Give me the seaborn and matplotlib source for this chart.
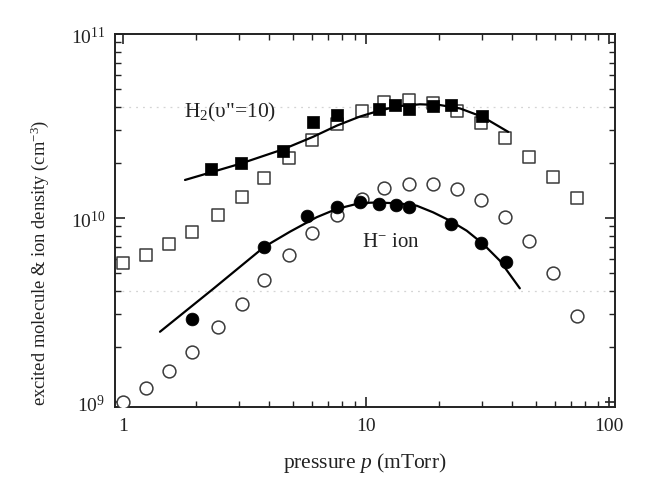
import numpy as np
import pandas as pd
import matplotlib
matplotlib.use("Agg")
import matplotlib.pyplot as plt
import seaborn as sns
from matplotlib.ticker import LogLocator, FixedLocator, FixedFormatter, NullFormatter

# ---------------- data ----------------
pressure = [1.00, 1.24, 1.55, 1.93, 2.45, 3.08, 3.81, 4.82, 6.01, 7.58,
            9.60, 11.9, 15.0, 18.8, 23.6, 29.9, 37.3, 46.9, 58.7, 73.8]
h2_open = [5.67e9, 6.29e9, 7.20e9, 8.36e9, 1.04e10, 1.30e10, 1.64e10, 2.11e10,
           2.66e10, 3.23e10, 3.83e10, 4.25e10, 4.40e10, 4.22e10, 3.80e10,
           3.28e10, 2.71e10, 2.15e10, 1.67e10, 1.28e10]
hminus_open = [1.00e9, 1.19e9, 1.47e9, 1.88e9, 2.55e9, 3.41e9, 4.62e9, 6.29e9,
               8.28e9, 1.04e10, 1.27e10, 1.45e10, 1.54e10, 1.54e10, 1.44e10,
               1.25e10, 1.01e10, 7.47e9, 5.02e9, 2.94e9]

h2_fill_p = [2.30, 3.06, 4.55, 6.05, 7.60, 11.3, 13.2, 15.0, 18.9, 22.4, 30.0]
h2_fill = [1.85e10, 1.99e10, 2.30e10, 3.34e10, 3.63e10, 3.91e10, 4.13e10,
           3.91e10, 4.08e10, 4.13e10, 3.57e10]

hm_fill_p = [1.93, 3.82, 5.73, 7.62, 9.45, 11.3, 13.25, 15.1, 22.5, 29.9, 37.6]
hm_fill = [2.83e9, 6.93e9, 1.02e10, 1.15e10, 1.22e10, 1.19e10, 1.18e10,
           1.15e10, 9.27e9, 7.29e9, 5.79e9]

h2_fit_p = [1.80, 3.03, 4.55, 6.05, 7.60, 9.45, 11.4, 13.8, 16.7, 20.2,
            24.4, 30.3, 38.5]
h2_fit = [1.61e10, 1.97e10, 2.36e10, 2.76e10, 3.18e10, 3.56e10, 3.84e10,
          4.06e10, 4.15e10, 4.11e10, 3.94e10, 3.54e10, 2.94e10]

hm_fit_p = [1.42, 2.35, 3.82, 4.87, 6.27, 7.57, 9.45, 11.1, 13.8, 16.2,
            18.9, 22.2, 26.0, 30.4, 35.6, 43.0]
hm_fit = [2.41e9, 4.12e9, 6.98e9, 8.43e9, 1.01e10, 1.12e10, 1.205e10, 1.215e10,
          1.20e10, 1.166e10, 1.074e10, 9.67e9, 8.53e9, 7.22e9, 5.86e9, 4.15e9]

x_ticks = [1, 10, 100]
x_ticklabels = ["1", "10", "100"]
y_ticks = [1e9, 1e10, 1e11]
y_ticklabels = ["$10^{9}$", "$10^{10}$", "$10^{11}$"]
faint_grid_y = [4e9, 4e10]

# ---------------- style ----------------
sns.set_theme(style="ticks")
plt.rcParams["font.family"] = ["Liberation Serif", "DejaVu Serif"]
plt.rcParams["mathtext.fontset"] = "custom"
plt.rcParams["mathtext.rm"] = "Liberation Serif"
plt.rcParams["mathtext.it"] = "Liberation Serif:italic"
plt.rcParams["mathtext.bf"] = "Liberation Serif:bold"

fig = plt.figure(figsize=(6.53, 4.81), dpi=100)
ax = fig.add_axes([115/653, 1 - 408/481, (615-115)/653, (408-35)/481])
ax.set_xscale("log")
ax.set_yscale("log")

for gy in faint_grid_y:
    ax.axhline(gy, color="#d4d4d4", lw=0.9, ls=(0, (1.5, 4)), zorder=0)

df_open = pd.DataFrame({"p": pressure, "h2": h2_open, "hm": hminus_open})
sns.scatterplot(data=df_open, x="p", y="h2", ax=ax, marker="s", s=70,
                facecolor="white", edgecolor="#3a3a3a", linewidth=1.1, zorder=3)
sns.scatterplot(data=df_open, x="p", y="hm", ax=ax, marker="o", s=85,
                facecolor="white", edgecolor="#3a3a3a", linewidth=1.1, zorder=3)

df_h2f = pd.DataFrame({"p": h2_fill_p, "v": h2_fill})
df_hmf = pd.DataFrame({"p": hm_fill_p, "v": hm_fill})
sns.scatterplot(data=df_h2f, x="p", y="v", ax=ax, marker="s", s=70,
                color="black", edgecolor="black", linewidth=0.5, zorder=4)
sns.scatterplot(data=df_hmf, x="p", y="v", ax=ax, marker="o", s=85,
                color="black", edgecolor="black", linewidth=0.5, zorder=4)

df_h2fit = pd.DataFrame({"p": h2_fit_p, "v": h2_fit})
df_hmfit = pd.DataFrame({"p": hm_fit_p, "v": hm_fit})
sns.lineplot(data=df_h2fit, x="p", y="v", ax=ax, color="black", lw=1.6,
             sort=False, estimator=None, zorder=5)
sns.lineplot(data=df_hmfit, x="p", y="v", ax=ax, color="black", lw=1.6,
             sort=False, estimator=None, zorder=5)

ax.set_xlim(0.927, 106)
ax.set_ylim(0.94e9, 1e11)

ax.xaxis.set_major_locator(FixedLocator(x_ticks))
ax.xaxis.set_major_formatter(FixedFormatter(x_ticklabels))
ax.yaxis.set_major_locator(FixedLocator(y_ticks))
ax.yaxis.set_major_formatter(FixedFormatter(y_ticklabels))
ax.xaxis.set_minor_locator(LogLocator(base=10, subs=np.arange(2, 10)))
ax.yaxis.set_minor_locator(LogLocator(base=10, subs=np.arange(2, 10)))
ax.xaxis.set_minor_formatter(NullFormatter())
ax.yaxis.set_minor_formatter(NullFormatter())

ax.tick_params(which="both", direction="in", top=True, right=True,
               color="#222222", labelsize=14, labelcolor="#222222")
ax.tick_params(which="major", length=7, width=1.2, pad=7)
ax.tick_params(which="minor", length=4, width=1.0)
for sp in ax.spines.values():
    sp.set_linewidth(1.4)
    sp.set_color("#222222")
    sp.set_visible(True)

ax.set_xlabel("pressure $\\mathit{p}$ (mTorr)", fontsize=15.5, color="#222222",
              labelpad=12)
ax.set_ylabel("excited molecule & ion density (cm$^{-3}$)", fontsize=13.3,
              color="#222222")
ax.yaxis.set_label_coords(-0.128, 0.39)

ax.text(1.78, 3.77e10, "H$_2$(υ\"=10)", fontsize=15.5, color="#222222",
        ha="left", va="center")
ax.text(9.63, 7.5e9, "H$^{-}$ ion", fontsize=15, color="#222222",
        ha="left", va="center")

fig.savefig("out.png", dpi=100, facecolor="white")
